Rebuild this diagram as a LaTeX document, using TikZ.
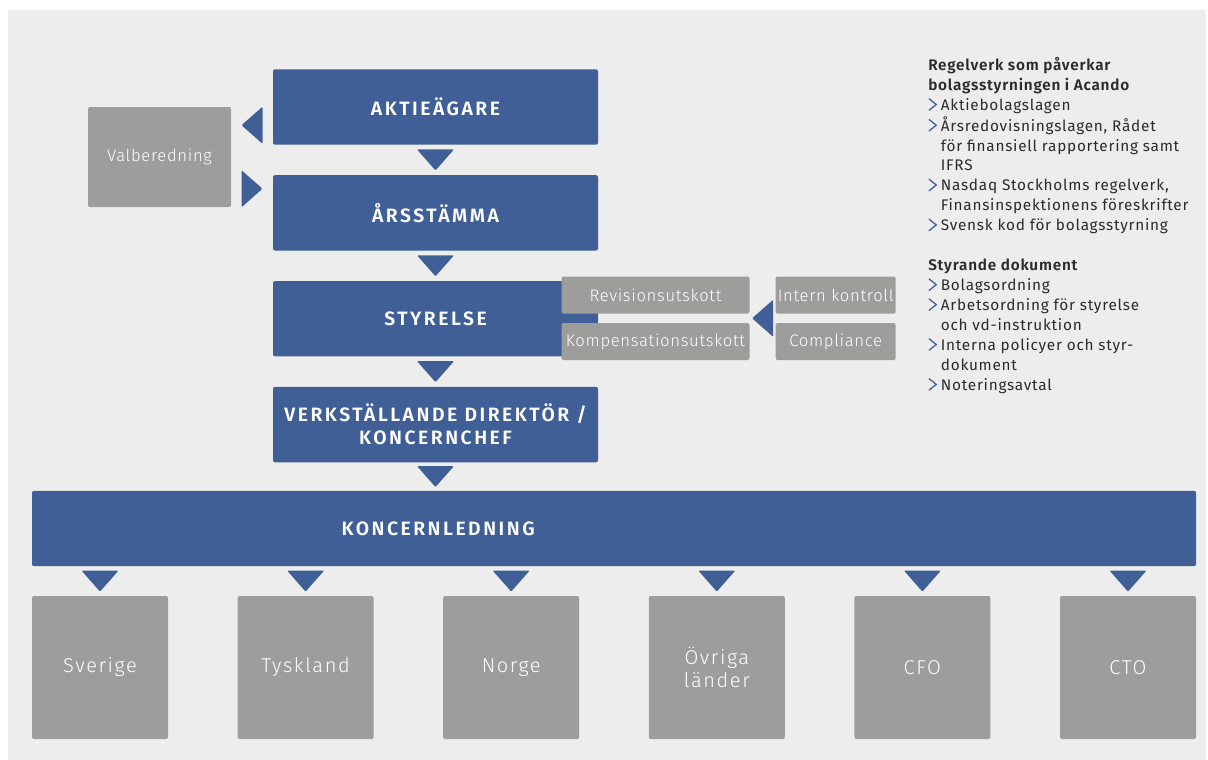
\documentclass[tikz,border=0pt]{standalone}
\usepackage{fontspec}
\setmainfont{Fira Sans Light}[BoldFont={Fira Sans SemiBold}]
\newfontfamily\regfont{Fira Sans}[BoldFont={Fira Sans SemiBold}, LetterSpace=5]
\usetikzlibrary{positioning, calc}

\definecolor{acblue}{HTML}{3F5F96}
\definecolor{acgray}{HTML}{9D9D9C}
\definecolor{bggray}{HTML}{EDEDED}
\definecolor{textgray}{HTML}{2B2B2B}

\newcommand\headfont{\fontsize{14.5}{17.5}\selectfont\bfseries\addfontfeatures{LetterSpace=13}}
\newcommand\labfont{\fontsize{12.5}{15}\selectfont\addfontfeatures{LetterSpace=4}}
\newcommand\bigfont{\fontsize{15}{17}\selectfont\addfontfeatures{LetterSpace=8}}
\newcommand\chev{\tikz[baseline=0pt]\draw[acblue, line width=0.95pt] (0pt,8.8pt) -- (5.5pt,4.4pt) -- (0pt,0pt);}

\tikzset{
    tridown/.pic={\fill[acblue, rounded corners=0.8pt] (-18.5,-10.5) -- (18.5,-10.5) -- (0,10.5) -- cycle;},
    trileft/.pic={\fill[acblue, rounded corners=0.8pt] (-10.5,0) -- (10.5,-18.5) -- (10.5,18.5) -- cycle;},
    triright/.pic={\fill[acblue, rounded corners=0.8pt] (10.5,0) -- (-10.5,-18.5) -- (-10.5,18.5) -- cycle;}
}

\begin{document}
\begin{tikzpicture}[
        x=0.75pt, y=-0.75pt,
        node distance=22.5pt and 52.2pt,
        bluebox/.style={fill=acblue, rounded corners=1.5pt, text=white, font=\headfont,
            align=center, inner sep=0pt, minimum width=243.75pt, minimum height=56.5pt},
        graybox/.style={fill=acgray, rounded corners=1.5pt, text=white, font=\labfont,
            align=center, inner sep=0pt},
        smallbox/.style={graybox, minimum width=141pt, minimum height=27.75pt},
        unitbox/.style={graybox, font=\bigfont, minimum width=102pt, minimum height=107.25pt}
    ]

    \useasboundingbox (0,0) rectangle (1208,760);
    \fill[bggray] (8,10) rectangle (1206,760);

    % Main column
    \node[bluebox] (aktie) at (435.5,107) {AKTIEÄGARE};
    \node[bluebox, below=of aktie] (arsst) {ÅRSSTÄMMA};
    \node[bluebox, below=of arsst] (styr) {STYRELSE};
    \node[bluebox, below=of styr] (vd) {VERKSTÄLLANDE DIREKTÖR /\\ KONCERNCHEF};
    \node[bluebox, minimum width=873pt] (koncern) at (614,528.5) {};
    \node[text=white, font=\headfont] (kltext) at ([xshift=2pt]vd |- koncern) {KONCERNLEDNING};

    % Valberedning
    \node[graybox, minimum width=107.25pt, minimum height=75pt] (valb) at (159.5,157) {Valberedning};

    % Committees
    \node[smallbox] (revision) at (655.5,295) {Revisionsutskott};
    \node[smallbox, below=6.75pt of revision] (kompens) {Kompensationsutskott};
    \node[smallbox, minimum width=90pt] (intern) at (835.7,295) {Intern kontroll};
    \node[smallbox, minimum width=90pt, below=6.75pt of intern] (compliance) {Compliance};

    % Triangles
    \pic at ($(aktie.south)!.5!(arsst.north)$) {tridown};
    \pic at ($(arsst.south)!.5!(styr.north)$) {tridown};
    \pic at ($(styr.south)!.5!(vd.north)$) {tridown};
    \pic at ($(vd.south)!.5!(vd.south |- koncern.north)$) {tridown};
    \pic at ($(valb.north east)!.5!(aktie.west |- valb.north) + (0,18.5)$) {trileft};
    \pic at ($(valb.south east)!.5!(arsst.west |- valb.south) + (0,-18.5)$) {triright};
    \pic at ($(revision.south east)!.5!(compliance.north west)$) {trileft};

    % Units
    \foreach \lab [count=\i from 0] in {Sverige, Tyskland, Norge, {Övriga\\länder}, CFO, CTO} {
        \node[unitbox] (unit\i) at ({100+205.6*\i},667.5) {\lab};
        \pic at ($(unit\i.north)!.5!(unit\i.north |- koncern.south)$) {tridown};
    }

    % Rules and documents
    \node[anchor=base west, inner sep=0pt, text=textgray, font=\regfont\fontsize{11.5}{14.95}\selectfont] (rules) at (928,70.5) {%
        \begin{tabular}[t]{@{}l@{\hspace{3pt}}l@{}}
            \multicolumn{2}{@{}l@{}}{\bfseries Regelverk som påverkar}\\
            \multicolumn{2}{@{}l@{}}{\bfseries bolagsstyrningen i Acando}\\
            \chev & Aktiebolagslagen\\
            \chev & Årsredovisningslagen, Rådet\\
                  & för finansiell rapportering samt\\
                  & IFRS\\
            \chev & Nasdaq Stockholms regelverk,\\
                  & Finansinspektionens föreskrifter\\
            \chev & Svensk kod för bolagsstyrning\\
            \multicolumn{2}{@{}l@{}}{}\\
            \multicolumn{2}{@{}l@{}}{\bfseries Styrande dokument}\\
            \chev & Bolagsordning\\
            \chev & Arbetsordning för styrelse\\
                  & och vd-instruktion\\
            \chev & Interna policyer och styr-\\
                  & dokument\\
            \chev & Noteringsavtal
        \end{tabular}};

\end{tikzpicture}
\end{document}
